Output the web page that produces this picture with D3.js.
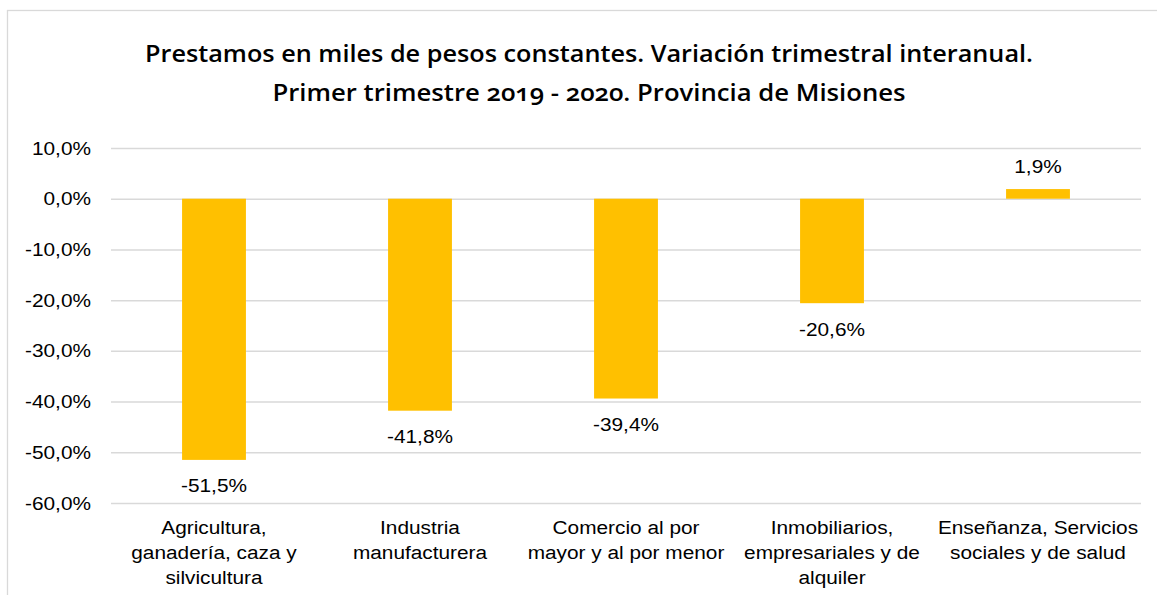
<!DOCTYPE html>
<html>
<head>
<meta charset="utf-8">
<script src="https://cdn.jsdelivr.net/npm/d3@7"></script>
<style>
  html, body { margin: 0; padding: 0; background: #fff; }
  svg { display: block; }
</style>
</head>
<body>
<svg id="chart" width="1157" height="595"></svg>
<script>
const categories = [
  ["Agricultura,", "ganadería, caza y", "silvicultura"],
  ["Industria", "manufacturera"],
  ["Comercio al por", "mayor y al por menor"],
  ["Inmobiliarios,", "empresariales y de", "alquiler"],
  ["Enseñanza, Servicios", "sociales y de salud"]
];
const values = [-51.5, -41.8, -39.4, -20.6, 1.9];
const yTicks = [10, 0, -10, -20, -30, -40, -50, -60];
const titleLines = [
  "Prestamos en miles de pesos constantes. Variación trimestral interanual.",
  "Primer trimestre 2019 - 2020. Provincia de Misiones"
];

(function () {
const SX = 1.12;           // horizontal stretch of the original text
const FS = 18.6;
const svg = d3.select("#chart");
const loc = d3.formatLocale({decimal: ",", thousands: ".", grouping: [3], currency: ["", ""], minus: "-"});
const fmtTick = v => loc.format(".1f")(v) + "%";
const fmtVal = v => loc.format(".1f")(v) + "%";

// outer border
svg.append("rect").attr("x", 7.5).attr("y", 10.5).attr("width", 1160).attr("height", 600)
  .attr("fill", "none").attr("stroke", "#d9d9d9").attr("stroke-width", 1.3);

const pLeft = 111, pRight = 1141, pTop = 148, pBottom = 503;
const keys = categories.map((c, i) => i);
const x = d3.scaleBand().domain(keys).range([pLeft, pRight]).paddingInner(0.69).paddingOuter(0.345);
const y = d3.scaleLinear().domain([-60, 10]).range([pBottom, pTop]);

// grid via axis
const gAxis = svg.append("g").attr("transform", `translate(${pLeft},0)`)
  .call(d3.axisLeft(y).tickValues(yTicks).tickSize(-(pRight - pLeft)).tickPadding(0).tickFormat(""));
gAxis.select(".domain").remove();
gAxis.selectAll(".tick line").attr("stroke", "#d9d9d9").attr("stroke-width", 1.5);

function stretched(g, tx, ty, txt, opts = {}) {
  return g.append("text")
    .attr("transform", `translate(${tx},${ty}) scale(${SX},1)`)
    .attr("text-anchor", opts.anchor || "middle")
    .attr("font-family", "'Liberation Sans', Arial, sans-serif")
    .attr("font-size", FS)
    .attr("fill", "#000")
    .text(txt);
}

// y tick labels
const gLab = svg.append("g");
yTicks.forEach(t => {
  stretched(gLab, 91, y(t) + 6.5, fmtTick(t), {anchor: "end"});
});

// bars
svg.append("g").selectAll("rect").data(values).join("rect")
  .attr("x", (d, i) => x(i))
  .attr("width", x.bandwidth())
  .attr("y", d => y(Math.max(0, d)))
  .attr("height", d => Math.abs(y(d) - y(0)))
  .attr("fill", "#FFC000");

// data labels
const gVal = svg.append("g");
values.forEach((v, i) => {
  const cx = x(i) + x.bandwidth() / 2;
  const ty = v < 0 ? y(v) + 32.5 : y(v) - 16;
  stretched(gVal, cx, ty, fmtVal(v));
});

// category labels
const gCat = svg.append("g");
categories.forEach((lines, i) => {
  const cx = x(i) + x.bandwidth() / 2;
  lines.forEach((ln, j) => stretched(gCat, cx, 533.5 + j * 25, ln));
});

// title
const tWidths = [888, 633];
const tBase = [62, 100.5];
titleLines.forEach((t, i) => {
  svg.append("text")
    .attr("x", 589).attr("y", tBase[i])
    .attr("text-anchor", "middle")
    .attr("font-family", "'Open Sans', 'Noto Sans', sans-serif")
    .attr("font-weight", 600)
    .attr("font-size", 23.5)
    .style("font-variant-numeric", "oldstyle-nums")
    .attr("fill", "#000")
    .attr("textLength", tWidths[i])
    .attr("lengthAdjust", "spacingAndGlyphs")
    .text(t);
});
})();
</script>
</body>
</html>
